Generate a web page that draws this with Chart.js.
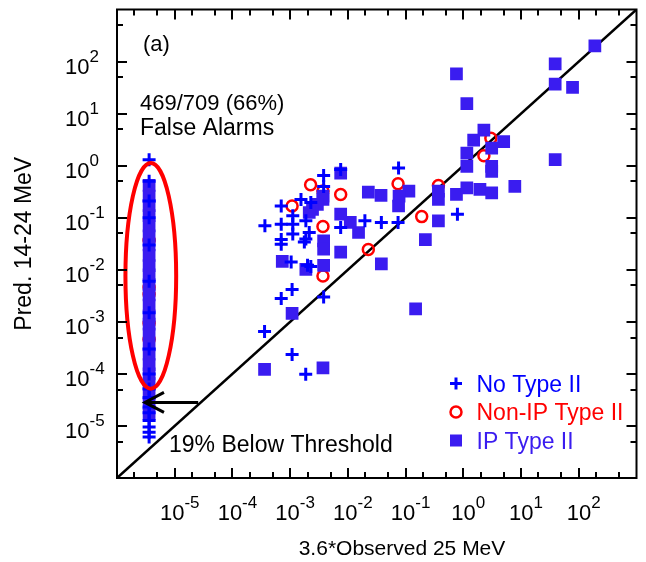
<!DOCTYPE html>
<html><head><meta charset="utf-8">
<script src="https://cdn.jsdelivr.net/npm/chart.js@4/dist/chart.umd.min.js"></script>
<style>html,body{margin:0;padding:0;background:#fff;}canvas{display:block;}</style>
</head><body>
<canvas id="c" width="646" height="562"></canvas>
<script>
// ---- data ----
const noTypeIIX = [0.0755,0.0038,0.0038,0.0075,0.00154,0.00228,7.0e-4,1.11e-3,3.65e-4,7.0e-4,1.11e-3,1.87e-3,1.11e-3,2.14e-3,1.87e-3,7.0e-4,7.0e-4,1.76e-3,0.0075,0.0197,0.038,0.074,1.04e-3,2.0e-3,2.28e-3,7.0e-4,1.08e-3,0.0038,0.79,3.6e-4,1.08e-3,1.86e-3,
  3.6e-6,3.6e-6,3.6e-6,3.6e-6,3.6e-6,3.6e-6,3.6e-6,3.6e-6,3.6e-6,3.6e-6,3.6e-6,3.6e-6,3.6e-6,3.6e-6,3.6e-6,3.6e-6,3.6e-6];
const noTypeIIY = [0.90,0.65,0.40,0.84,0.225,0.195,0.168,0.109,0.070,0.075,0.075,0.087,0.0485,0.052,0.039,0.038,0.031,0.034,0.065,0.087,0.081,0.081,0.0141,0.0122,0.0115,2.8e-3,4.2e-3,3.0e-3,0.117,6.5e-4,2.35e-4,9.8e-5,
  1.3,0.5,0.21,0.1,0.03,0.006,0.0015,3e-4,1e-4,5.1e-5,3.5e-5,2.3e-5,1.8e-5,1.27e-5,9.5e-6,7.6e-6,6.1e-6];

const nonIPTypeIIX = [3.0,2.27,0.37,0.074,0.00226,0.0037,0.0075,1.08e-3,0.0037,0.0037,0.0226,0.19,
  3.6e-6,3.6e-6,3.6e-6,3.6e-6,3.6e-6];
const nonIPTypeIIY = [3.36,1.55,0.415,0.45,0.43,0.325,0.28,0.168,0.068,7.6e-3,0.0245,0.105,
  0.037,4.6e-3,3.4e-3,9.4e-4,4.6e-4];

const ipTypeIIX = [190,39,39,78,0.76,1.15,2.27,1.51,5.0,3.1,1.15,1.15,3.1,3.1,39,7.8,0.76,1.15,1.94,3.1,0.37,0.37,0.114,0.077,0.0755,0.0226,0.0375,0.0075,0.0037,0.0037,2.96e-3,2.44e-3,2.14e-3,0.0075,0.011,0.0153,0.0038,0.0038,0.0075,7.3e-4,1.87e-3,0.0038,0.038,0.22,0.37,0.149,1.08e-3,3.6e-4,0.0037,
  3.6e-6,3.6e-6,3.6e-6,3.6e-6,3.6e-6,3.6e-6,3.6e-6,3.6e-6,3.6e-6,3.6e-6,3.6e-6,3.6e-6,3.6e-6,3.6e-6,3.6e-6,3.6e-6,3.6e-6,3.6e-6,3.6e-6,3.6e-6,3.6e-6,3.6e-6,3.6e-6,3.6e-6];
const ipTypeIIY = [200,90,37,32,58,15.6,4.8,3.1,2.9,2.17,1.74,0.97,0.97,0.78,1.3,0.40,0.28,0.376,0.35,0.30,0.325,0.225,0.325,0.26,0.168,0.31,0.268,0.72,0.26,0.225,0.18,0.145,0.126,0.117,0.081,0.052,0.036,0.025,0.0218,0.0145,0.0102,0.0122,0.013,0.038,0.087,1.77e-3,1.46e-3,1.22e-4,1.31e-4,
  0.42,0.26,0.17,0.11,0.07,0.045,0.03,0.019,0.012,0.008,0.0052,0.0033,0.0021,0.0013,9e-4,5.8e-4,3.6e-4,2.4e-4,1.5e-4,1.0e-4,6.5e-5,4.2e-5,2.7e-5,1.7e-5];

const refLineX = [1e-6, 1e3];
const refLineY = [1e-6, 1e3];

const xTickValues = [1e-5,1e-4,1e-3,1e-2,1e-1,1,10,100];
const xTickExponents = ['-5','-4','-3','-2','-1','0','1','2'];
const yTickValues = [1e-5,1e-4,1e-3,1e-2,1e-1,1,10,100];
const yTickExponents = ['-5','-4','-3','-2','-1','0','1','2'];

const ellipseBoundsX = [1.4e-6, 1.06e-5];
const ellipseBoundsY = [5.2e-5, 1.12];
const arrowX = [2.55e-5, 3.05e-6];
const arrowY = [2.83e-5, 2.83e-5];

const panelLabel = '(a)';
const falseAlarmLines = ['469/709 (66%)', 'False Alarms'];
const belowThresholdText = '19% Below Threshold';
const xTitle = '3.6*Observed 25 MeV';
const yTitle = 'Pred. 14-24 MeV';

// ---- rendering ----
const FONT = '"Liberation Sans", Arial, Helvetica, sans-serif';
const zip = (xs, ys) => xs.map((x, i) => ({x, y: ys[i]}));

const decor = {
  id: 'decor',
  afterDatasetsDraw(chart) {
    const ctx = chart.ctx, xs = chart.scales.x, ys = chart.scales.y;
    ctx.save();
    const lx0 = Math.log10(ellipseBoundsX[0]), lx1 = Math.log10(ellipseBoundsX[1]);
    const ly0 = Math.log10(ellipseBoundsY[0]), ly1 = Math.log10(ellipseBoundsY[1]);
    const cx = xs.getPixelForValue(Math.pow(10, (lx0 + lx1) / 2));
    const cy = ys.getPixelForValue(Math.pow(10, (ly0 + ly1) / 2));
    const rx = (xs.getPixelForValue(ellipseBoundsX[1]) - xs.getPixelForValue(ellipseBoundsX[0])) / 2;
    const ry = (ys.getPixelForValue(ellipseBoundsY[0]) - ys.getPixelForValue(ellipseBoundsY[1])) / 2;
    ctx.beginPath();
    ctx.ellipse(cx, cy, rx, ry, 0, 0, Math.PI * 2);
    ctx.strokeStyle = '#ff0000'; ctx.lineWidth = 4; ctx.stroke();
    const ax0 = xs.getPixelForValue(arrowX[0]), ax1 = xs.getPixelForValue(arrowX[1]);
    const ay = ys.getPixelForValue(arrowY[0]);
    ctx.strokeStyle = '#000'; ctx.lineWidth = 3; ctx.lineCap = 'butt';
    ctx.beginPath(); ctx.moveTo(ax0, ay); ctx.lineTo(ax1 + 2, ay); ctx.stroke();
    ctx.beginPath(); ctx.moveTo(ax1 + 19, ay - 10); ctx.lineTo(ax1, ay); ctx.lineTo(ax1 + 19, ay + 10);
    ctx.lineJoin = 'miter'; ctx.stroke();
    ctx.restore();
  },
  afterDraw(chart) {
    const ctx = chart.ctx, xs = chart.scales.x, ys = chart.scales.y, ca = chart.chartArea;
    ctx.save();
    ctx.strokeStyle = '#000';
    ctx.lineWidth = 2;
    ctx.strokeRect(ca.left, ca.top, ca.right - ca.left, ca.bottom - ca.top);
    for (let d = -6; d <= 3; d++) {
      for (const k of [1, 2, 5]) {
        const v = k * Math.pow(10, d);
        const len = k === 1 ? 10 : 6;
        if (v > xs.min && v < xs.max) {
          const px = Math.round(xs.getPixelForValue(v));
          ctx.beginPath();
          ctx.moveTo(px, ca.bottom); ctx.lineTo(px, ca.bottom - len);
          ctx.moveTo(px, ca.top); ctx.lineTo(px, ca.top + len);
          ctx.stroke();
        }
        if (k !== 2 && v > ys.min && v < ys.max) {
          const py = Math.round(ys.getPixelForValue(v));
          ctx.beginPath();
          ctx.moveTo(ca.left, py); ctx.lineTo(ca.left + len, py);
          ctx.moveTo(ca.right, py); ctx.lineTo(ca.right - len, py);
          ctx.stroke();
        }
      }
    }
    ctx.fillStyle = '#000';
    ctx.textBaseline = 'alphabetic';
    ctx.textAlign = 'left';
    const BASE = '22px ' + FONT, SUP = '17px ' + FONT;
    xTickValues.forEach((v, i) => {
      const px = xs.getPixelForValue(v);
      ctx.font = BASE; const bw = ctx.measureText('10').width;
      ctx.font = SUP; const ew = ctx.measureText(xTickExponents[i]).width;
      const start = px + 5 - (bw + ew) / 2;
      ctx.font = BASE; ctx.fillText('10', start, 520);
      ctx.font = SUP; ctx.fillText(xTickExponents[i], start + bw, 508);
    });
    yTickValues.forEach((v, i) => {
      const py = ys.getPixelForValue(v);
      ctx.font = BASE; const bw = ctx.measureText('10').width;
      ctx.fillText('10', 65, py + 12.5);
      ctx.font = SUP; ctx.fillText(yTickExponents[i], 65 + bw, py);
    });
    ctx.font = '21px ' + FONT; ctx.textAlign = 'center';
    ctx.fillText(xTitle, 402, 555);
    ctx.textAlign = 'left';
    ctx.font = '22px ' + FONT;
    ctx.fillText(panelLabel, 143, 51);
    ctx.fillText(falseAlarmLines[0], 140, 110);
    ctx.font = '23px ' + FONT;
    ctx.fillText(falseAlarmLines[1], 140, 135);
    ctx.fillText(belowThresholdText, 169, 452);
    const rows = [391.5, 420, 448.5];
    ctx.font = '23px ' + FONT;
    chart.data.datasets.slice(0, 3).forEach((ds, i) => {
      const by = rows[i], sx = 456, sy = by - 8;
      ctx.save();
      if (ds.pointStyle === 'cross') {
        ctx.strokeStyle = ds.borderColor; ctx.lineWidth = ds.borderWidth;
        ctx.beginPath(); ctx.moveTo(sx - 6, sy); ctx.lineTo(sx + 6, sy);
        ctx.moveTo(sx, sy - 6); ctx.lineTo(sx, sy + 6); ctx.stroke();
      } else if (ds.pointStyle === 'circle') {
        ctx.strokeStyle = ds.borderColor; ctx.lineWidth = ds.borderWidth;
        ctx.beginPath(); ctx.arc(sx, sy, 5.5, 0, Math.PI * 2); ctx.stroke();
      } else {
        ctx.fillStyle = ds.backgroundColor; ctx.fillRect(sx - 6, sy - 6, 12, 12);
      }
      ctx.restore();
      ctx.fillStyle = ds.legendTextColor;
      ctx.fillText(ds.label, 476.5, by);
    });
    ctx.restore();
  }
};

new Chart(document.getElementById('c'), {
  type: 'scatter',
  data: {
    datasets: [
      { label: 'No Type II', data: zip(noTypeIIX, noTypeIIY), pointStyle: 'cross', pointRadius: 6.5,
        borderColor: '#0000ff', backgroundColor: '#0000ff', borderWidth: 3, order: 0, legendTextColor: '#0000ff' },
      { label: 'Non-IP Type II', data: zip(nonIPTypeIIX, nonIPTypeIIY), pointStyle: 'circle', pointRadius: 5.5,
        borderColor: '#ff0000', backgroundColor: 'rgba(0,0,0,0)', borderWidth: 2.5, order: 2, legendTextColor: '#ff0000' },
      { label: 'IP Type II', data: zip(ipTypeIIX, ipTypeIIY), pointStyle: 'rect', pointRadius: 9,
        borderColor: '#3a1cf0', backgroundColor: '#3a1cf0', borderWidth: 0, order: 1, legendTextColor: '#3a1cf0' },
      { label: 'y = x', type: 'line', data: zip(refLineX, refLineY), borderColor: '#000', borderWidth: 2.5,
        pointRadius: 0, showLine: true, fill: false, order: 3 }
    ]
  },
  options: {
    responsive: false,
    animation: false,
    devicePixelRatio: 1,
    events: [],
    layout: { padding: { top: 5, right: 2, left: 0, bottom: 0 } },
    plugins: { legend: { display: false }, tooltip: { enabled: false } },
    scales: {
      x: { type: 'logarithmic', min: 1e-6, max: 1e3, position: 'bottom',
        ticks: { display: false }, grid: { display: false, drawTicks: false }, border: { display: false },
        afterFit(s) { s.height = 84; } },
      y: { type: 'logarithmic', min: 1e-6, max: 1e3, position: 'left',
        ticks: { display: false }, grid: { display: false, drawTicks: false }, border: { display: false },
        title: { display: true, text: yTitle, color: '#000', font: { family: FONT, size: 23 }, padding: { top: 11, bottom: 0 } },
        afterFit(s) { s.width = 117; } }
    }
  },
  plugins: [decor]
});
</script>
</body></html>
